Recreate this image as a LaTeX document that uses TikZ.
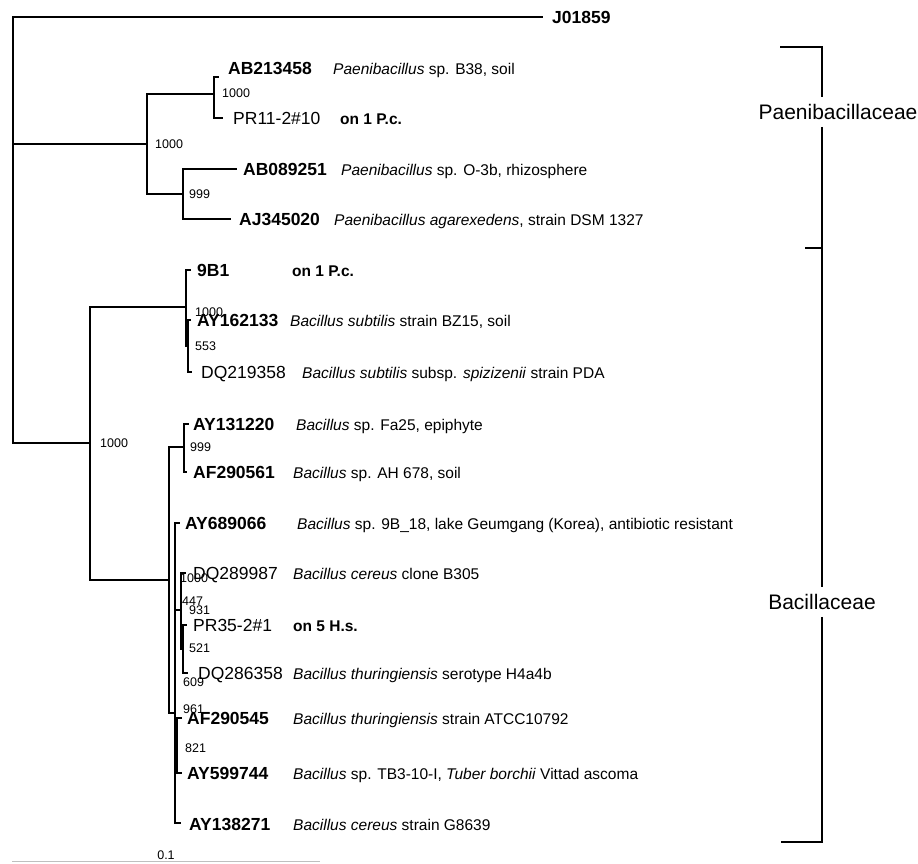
\documentclass[tikz,border=0pt]{standalone}
\usepackage{fontspec}
\setmainfont{Liberation Sans}
\begin{document}
\begin{tikzpicture}[x=1pt,y=-1pt,
  br/.style={line width=1.3pt, line cap=rect},
  accb/.style={anchor=base west, inner sep=0pt, font=\fontsize{17.5}{20}\selectfont\bfseries},
  accr/.style={anchor=base west, inner sep=0pt, font=\fontsize{17.5}{20}\selectfont},
  desc/.style={anchor=base west, inner sep=0pt, font=\fontsize{15.5}{18}\selectfont},
  ondesc/.style={anchor=base west, inner sep=0pt, font=\fontsize{15.5}{18}\selectfont\bfseries},
  boot/.style={anchor=west, inner sep=0pt, font=\fontsize{12.5}{14}\selectfont},
  fam/.style={font=\fontsize{21}{24}\selectfont, fill=white, inner xsep=0pt, inner ysep=7pt}]
\useasboundingbox (0,0) rectangle (918,863);
% ---- internal nodes and tips
\coordinate (R) at (13,230);
\coordinate (tJ) at (542,17);
\coordinate (P) at (147,144);
\coordinate (P1) at (214,94);
\coordinate (tAB213458) at (218,77);
\coordinate (tPR11) at (222,118);
\coordinate (P2) at (183,194);
\coordinate (tAB089251) at (236,169);
\coordinate (tAJ345020) at (230,219);
\coordinate (B) at (90,443);
\coordinate (S) at (186,307);
\coordinate (t9B1) at (190,270);
\coordinate (S2) at (188,346);
\coordinate (tAY162133) at (190,320);
\coordinate (tDQ219358) at (191,372);
\coordinate (C) at (169,580);
\coordinate (C1) at (184,447);
\coordinate (tAY131220) at (188,424);
\coordinate (tAF290561) at (186,472);
\coordinate (C2) at (175,713);
\coordinate (tAY689066) at (179,523);
\coordinate (C3) at (181,610);
\coordinate (tDQ289987) at (185,573);
\coordinate (C5) at (183,649);
\coordinate (tPR35) at (186,625);
\coordinate (tDQ286358) at (187,673);
\coordinate (C4) at (177,745);
\coordinate (tAF290545) at (181,718);
\coordinate (tAY599744) at (181,773);
\coordinate (tAY138271) at (180,823);
% ---- branches
\draw[br] (R) |- (tJ);
\draw[br] (R) |- (P);
\draw[br] (R) |- (B);
\draw[br] (P) |- (P1);
\draw[br] (P) |- (P2);
\draw[br] (P1) |- (tAB213458);
\draw[br] (P1) |- (tPR11);
\draw[br] (P2) |- (tAB089251);
\draw[br] (P2) |- (tAJ345020);
\draw[br] (B) |- (S);
\draw[br] (B) |- (C);
\draw[br] (S) |- (t9B1);
\draw[br] (S) |- (S2);
\draw[br] (S2) |- (tAY162133);
\draw[br] (S2) |- (tDQ219358);
\draw[br] (C) |- (C1);
\draw[br] (C) |- (C2);
\draw[br] (C1) |- (tAY131220);
\draw[br] (C1) |- (tAF290561);
\draw[br] (C2) |- (tAY689066);
\draw[br] (C2) |- (C3);
\draw[br] (C2) |- (C4);
\draw[br] (C2) |- (tAY138271);
\draw[br] (C3) |- (tDQ289987);
\draw[br] (C3) |- (C5);
\draw[br] (C5) |- (tPR35);
\draw[br] (C5) |- (tDQ286358);
\draw[br] (C4) |- (tAF290545);
\draw[br] (C4) |- (tAY599744);
% ---- bootstrap values
\node[boot] (b1) at (155,144) {1000};
\node[boot] (b2) at (222,93) {1000};
\node[boot] (b3) at (189,194) {999};
\node[boot] (b4) at (100,443) {1000};
\node[boot] (b5) at (195,312) {1000};
\node[boot] (b6) at (195,346) {553};
\node[boot] (b7) at (190,447) {999};
\node[boot] (b8) at (180,578) {1000};
\node[boot] (b9) at (182,601) {447};
\node[boot] (b10) at (189,610) {931};
\node[boot] (b11) at (189,648) {521};
\node[boot] (b12) at (183,682) {609};
\node[boot] (b13) at (183,709) {961};
\node[boot] (b14) at (185,748) {821};
% ---- leaf labels
\node[accb] (lJ) at (552,23) {J01859};
\node[accb] (l1) at (228,74.5) {AB213458};
\node[desc] (d1) at (333,74) {\textit{Paenibacillus} sp. B38, soil};
\node[accr] (l2) at (233,124.5) {PR11-2\#10};
\node[ondesc] (d2) at (340,124) {on 1 P.c.};
\node[accb] (l3) at (243,175.5) {AB089251};
\node[desc] (d3) at (341,175) {\textit{Paenibacillus} sp. O-3b, rhizosphere};
\node[accb] (l4) at (239,225.5) {AJ345020};
\node[desc] (d4) at (334,225) {\textit{Paenibacillus agarexedens}, strain DSM 1327};
\node[accb] (l5) at (197,276.5) {9B1};
\node[ondesc] (d5) at (292,276) {on 1 P.c.};
\node[accb] (l6) at (197,326.5) {AY162133};
\node[desc] (d6) at (290,326) {\textit{Bacillus subtilis} strain BZ15, soil};
\node[accr] (l7) at (201,378.5) {DQ219358};
\node[desc] (d7) at (302,378) {\textit{Bacillus subtilis} subsp. \textit{spizizenii} strain PDA};
\node[accb] (l8) at (193,430.5) {AY131220};
\node[desc] (d8) at (296,430) {\textit{Bacillus} sp. Fa25, epiphyte};
\node[accb] (l9) at (193,478.5) {AF290561};
\node[desc] (d9) at (293,478) {\textit{Bacillus} sp. AH 678, soil};
\node[accb] (l10) at (185,529.5) {AY689066};
\node[desc] (d10) at (297,529) {\textit{Bacillus} sp. 9B\_18, lake Geumgang (Korea), antibiotic resistant};
\node[accr] (l11) at (193,579.5) {DQ289987};
\node[desc] (d11) at (293,579) {\textit{Bacillus cereus} clone B305};
\node[accr] (l12) at (193,631.5) {PR35-2\#1};
\node[ondesc] (d12) at (293,631) {on 5 H.s.};
\node[accr] (l13) at (198,679.5) {DQ286358};
\node[desc] (d13) at (293,679) {\textit{Bacillus thuringiensis} serotype H4a4b};
\node[accb] (l14) at (187,724.5) {AF290545};
\node[desc] (d14) at (293,724) {\textit{Bacillus thuringiensis} strain ATCC10792};
\node[accb] (l15) at (187,779.5) {AY599744};
\node[desc] (d15) at (293,779) {\textit{Bacillus} sp. TB3-10-I, \textit{Tuber borchii} Vittad ascoma};
\node[accb] (l16) at (189,830.5) {AY138271};
\node[desc] (d16) at (293,830) {\textit{Bacillus cereus} strain G8639};
% ---- family brackets
\node[fam] (paen) at (838,112) {Paenibacillaceae};
\node[fam] (bac) at (822,602) {Bacillaceae};
\coordinate (bt0) at (780,47);
\coordinate (bt) at (822,47);
\coordinate (bm0) at (805,248);
\coordinate (bm) at (822,248);
\coordinate (bb) at (822,842);
\coordinate (bb0) at (781,842);
\draw[br, line cap=butt] (bt0) -- (bt) -- (paen.north -| bt);
\draw[br, line cap=butt] (paen.south -| bt) -- (bm) -- (bac.north -| bt);
\draw[br, line cap=butt] (bac.south -| bt) -- (bb) -- (bb0);
\draw[br, line cap=butt] (bm0) -- (bm);
% ---- scale bar
\coordinate (sb0) at (12,861.5);
\coordinate (sb1) at (320,861.5);
\draw[line width=1.3pt, color=black!25] (sb0) -- (sb1);
\node[boot, anchor=center] (sbl) at (166,855) {0.1};
\end{tikzpicture}
\end{document}
